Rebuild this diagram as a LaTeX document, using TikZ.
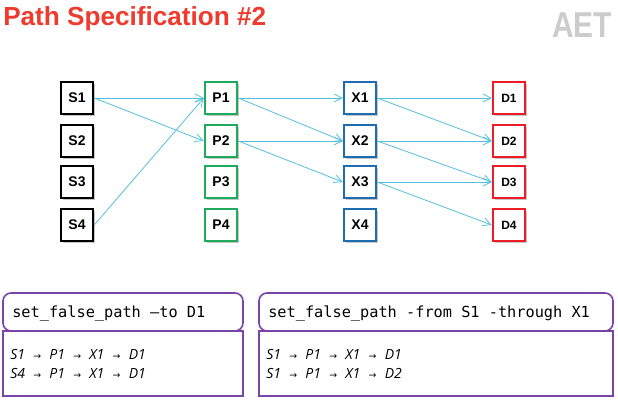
\documentclass[tikz,border=0pt]{standalone}
\usepackage{fontspec}
\setmainfont{Liberation Sans}
\setmonofont{DejaVu Sans Mono}
\newfontfamily\pathfont{Open Sans}
\newfontfamily\arrowfont{DejaVu Sans}
\usetikzlibrary{arrows.meta,shadows}
\definecolor{titlecol}{HTML}{EE3B2E}
\definecolor{wirecol}{HTML}{55BFE0}
\definecolor{pcol}{HTML}{1FAA5C}
\definecolor{xcol}{HTML}{1F6DB0}
\definecolor{dcol}{HTML}{EE1C25}
\definecolor{boxcol}{HTML}{7A44A8}
\tikzset{>={Straight Barb[length=6pt,width=6pt]}}
\tikzset{
  pin/.style={draw=#1,line width=1.8pt,fill=white,minimum size=24pt,inner sep=0pt,
    drop shadow={shadow xshift=1.2pt,shadow yshift=-1.2pt,opacity=0.45},
    font=\fontsize{10.5}{12}\selectfont\bfseries},
  wire/.style={->,wirecol,line width=0.6pt},
  cmdbox/.style={draw=boxcol,line width=1.2pt,rounded corners=6pt},
  listbox/.style={draw=boxcol,line width=1.2pt},
  cmdtext/.style={font=\ttfamily\fontsize{11.45}{13}\selectfont,anchor=west,inner sep=0pt},
  listtext/.style={font=\pathfont\itshape\fontsize{10.5}{14.2}\selectfont,anchor=north west,inner sep=0pt,align=left},
}
\newcommand{\ra}{\hspace{6.2pt}{\arrowfont\upshape\fontsize{7}{7}\selectfont→}\hspace{6.2pt}}
\begin{document}
\begin{tikzpicture}[x=0.75pt,y=-0.75pt]
  \useasboundingbox (0,0) rectangle (618,403);
  \fill[white] (0,0) rectangle (618,403);

  % TITLE
  \node[anchor=west,inner sep=0pt,titlecol,font=\fontsize{19.6}{21}\selectfont\bfseries] (title) at (3,19) {Path Specification \#2};
  \node[anchor=west,inner sep=0pt,black!20,xscale=0.83,font=\fontsize{27}{28}\selectfont\bfseries] (logo) at (552,25) {AET};

  % PINS
  \foreach \ny [count=\i] in {98,141,182,225} {
    \node[pin=black]   (S\i) at (77,\ny)  {S\i};
    \node[pin=pcol]    (P\i) at (221,\ny) {P\i};
    \node[pin=xcol]    (X\i) at (360,\ny) {X\i};
    \node[pin=dcol,font=\fontsize{9}{11}\selectfont\bfseries] (D\i) at (509,\ny) {D\i};
  }

  % PATHS
  \foreach \a/\b in {S1/P1,S1/P2,S4/P1,P1/X1,P1/X2,P2/X2,P2/X3,X1/D1,X1/D2,X2/D2,X2/D3,X3/D3,X3/D4}
    \draw[wire] (\a.east) -- (\b.west);

  % COMMANDS
  \draw[cmdbox] (3,293) rectangle (243,331);
  \draw[listbox] (3,331) rectangle (243,396);
  \draw[cmdbox] (259,293) rectangle (613,331);
  \draw[listbox] (259,331) rectangle (613,396);
  \node[cmdtext] (cmda) at (12,313) {set\_false\_path –to D1};
  \node[cmdtext] (cmdb) at (268,313) {set\_false\_path -from S1 -through X1};
  \node[listtext] (lista) at (10,349) {S1\ra P1\ra X1\ra D1\\S4\ra P1\ra X1\ra D1};
  \node[listtext] (listb) at (266,349) {S1\ra P1\ra X1\ra D1\\S1\ra P1\ra X1\ra D2};
\end{tikzpicture}
\end{document}
